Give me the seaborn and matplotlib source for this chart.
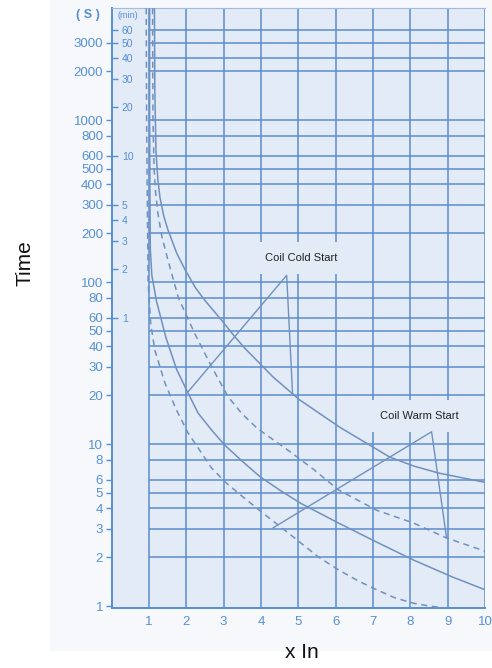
import matplotlib
matplotlib.use("Agg")
import matplotlib.pyplot as plt
import seaborn as sns
import pandas as pd
from matplotlib.patches import Rectangle

# Tripping curves (x In, seconds)
lower_dashed_x = [0.93, 0.94, 0.96, 0.98, 1.05, 1.16, 1.43, 1.74, 2.05, 2.41, 2.68, 3.09,
                  3.55, 4.05, 4.55, 5.07, 5.55, 6.08, 6.6, 7.1, 7.6, 8.09, 8.5, 8.97]
lower_dashed_y = [4900, 1000, 300, 100, 55, 38, 23.8, 16.2, 11.7, 8.8, 7.1, 5.7,
                  4.65, 3.75, 3.05, 2.45, 2.0, 1.67, 1.43, 1.26, 1.12, 1.04, 1.0, 0.97]

lower_solid_x = [1.02, 1.02, 1.03, 1.04, 1.08, 1.2, 1.45, 1.74, 2.01, 2.32, 2.68, 3.03,
                 3.48, 3.97, 4.5, 5.07, 6.08, 7.1, 8.09, 9.13, 10.0]
lower_solid_y = [4900, 1000, 300, 158, 110, 77, 46, 29, 21.5, 15.5, 12.2, 9.85,
                 7.9, 6.3, 5.2, 4.3, 3.25, 2.48, 1.92, 1.51, 1.26]

upper_dashed_x = [1.1, 1.11, 1.14, 1.18, 1.24, 1.35, 1.51, 1.79, 2.23, 2.68, 3.12, 3.48,
                  3.9, 4.77, 5.4, 6.08, 7.1, 8.09, 8.97, 10.0]
upper_dashed_y = [4900, 1000, 500, 360, 267, 190, 137, 80, 48, 30, 19.6, 15.5,
                  12.5, 9.0, 7.0, 5.2, 3.9, 3.25, 2.63, 2.18]

upper_solid_x = [1.15, 1.16, 1.19, 1.24, 1.3, 1.4, 1.51, 1.75, 1.97, 2.25, 2.5, 2.95,
                 3.3, 3.57, 4.32, 5.04, 6.11, 6.8, 7.45, 8.1, 8.78, 10.0]
upper_solid_y = [4900, 1500, 650, 430, 330, 255, 210, 150, 119, 92, 77, 58,
                 46, 39, 26, 18.7, 12.7, 10.2, 8.3, 7.3, 6.6, 5.8]

# annotation pointers
cold_x = [2.05, 4.69, 4.85]
cold_y = [21, 110, 20]
warm_x = [4.32, 8.57, 8.97]
warm_y = [3.03, 11.9, 2.63]

# axis ticks / grid
x_ticks = [1, 2, 3, 4, 5, 6, 7, 8, 9, 10]
sec_ticks = [3000, 2000, 1000, 800, 600, 500, 400, 300, 200, 100, 80, 60, 50, 40, 30, 20,
             10, 8, 6, 5, 4, 3, 2, 1]
min_ticks = [60, 50, 40, 30, 20, 10, 5, 4, 3, 2, 1]
h_grid = [3600, 3000, 2400, 2000, 1000, 800, 600, 500, 400, 300, 200, 100, 80, 60, 50, 40, 30,
          20, 10, 8, 6, 5, 4, 3, 2]

BG = "#e3ebf7"
BLUE = "#5590d3"
GRID = "#5a8dcc"
CURVE = "#6f91bf"

sns.set_theme(style="white")
plt.rcParams["font.family"] = ["Liberation Sans", "DejaVu Sans"]

fig = plt.figure(figsize=(4.92, 6.68), dpi=100)
fig.patches.append(Rectangle((50 / 492, 18 / 668), 442 / 492, 650 / 668,
                             transform=fig.transFigure, color="#f6f8fc", zorder=-5))
ax = fig.add_axes([111.5 / 492, 60 / 668, 373.5 / 492, 600 / 668])
ax.set_facecolor(BG)
ax.set_yscale("log")
ax.set_xlim(0, 10)
ax.set_ylim(0.972, 4914)

# grid
for xv in x_ticks:
    ax.axvline(xv, color=GRID, lw=1.1, zorder=1)
ax.hlines(h_grid, 1, 10, color=GRID, lw=1.1, zorder=1)

curves = [
    (lower_dashed_x, lower_dashed_y, (4, 3)),
    (lower_solid_x, lower_solid_y, ""),
    (upper_dashed_x, upper_dashed_y, (4, 3)),
    (upper_solid_x, upper_solid_y, ""),
]
for cx, cy, dash in curves:
    df = pd.DataFrame({"x": cx, "y": cy})
    sns.lineplot(data=df, x="x", y="y", ax=ax, sort=False, estimator=None,
                 color=CURVE, lw=1.1, zorder=3)
    if dash:
        ax.lines[-1].set_dashes(dash)

for px, py in [(cold_x, cold_y), (warm_x, warm_y)]:
    sns.lineplot(x=px, y=py, ax=ax, sort=False, estimator=None, color=CURVE, lw=1.0, zorder=3)

ax.text(4.1, 141, "Coil Cold Start", fontsize=8, color="#222222", va="center", zorder=2,
        bbox=dict(boxstyle="square,pad=1.0", fc=BG, ec="none"))
ax.text(7.18, 14.9, "Coil Warm Start", fontsize=8, color="#222222", va="center", zorder=2,
        bbox=dict(boxstyle="square,pad=1.0", fc=BG, ec="none"))

# seconds axis
ax.set_yticks(sec_ticks)
ax.set_yticklabels([str(v) for v in sec_ticks])
ax.yaxis.set_minor_locator(matplotlib.ticker.NullLocator())
ax.tick_params(axis="y", which="major", direction="out", length=4, width=1, color=BLUE,
               labelcolor=BLUE, labelsize=9.5, pad=2, left=True)
ax.set_xticks(x_ticks)
ax.set_xticklabels([str(v) for v in x_ticks])
ax.tick_params(axis="x", length=0, labelcolor=BLUE, labelsize=9.5, pad=6)

# minutes axis inside the frame
sec = ax.secondary_yaxis("left", functions=(lambda s: s / 60, lambda m: m * 60))
sec.set_yticks(min_ticks)
sec.set_yticklabels([str(v) for v in min_ticks])
sec.yaxis.set_minor_locator(matplotlib.ticker.NullLocator())
sec.tick_params(axis="y", direction="in", length=4, width=1, color=BLUE, labelcolor=BLUE,
                labelsize=7.5, pad=-7.5)
for lbl in sec.get_yticklabels():
    lbl.set_horizontalalignment("left")
sec.spines["left"].set_visible(False)

fig.text(88 / 492, 1 - 15 / 668, "( S )", fontsize=9, color=BLUE,
         ha="center", va="center", fontweight="bold")
fig.text(117 / 492, 1 - 16 / 668, "(min)", fontsize=6.5, color=BLUE,
         ha="left", va="center")

for side in ["left", "bottom"]:
    ax.spines[side].set_color(BLUE)
    ax.spines[side].set_linewidth(1.4)
ax.spines["top"].set_color("#9fbde3")
ax.spines["top"].set_linewidth(0.8)
ax.spines["right"].set_visible(False)

ax.set_xlabel("")
ax.set_ylabel("")
fig.text(302 / 492, 1 - 652 / 668, "x In", fontsize=15, color="#111111", ha="center", va="center")
fig.text(25 / 492, 1 - 263 / 668, "Time", fontsize=15, color="#111111", ha="center",
         va="center", rotation=90)

fig.savefig("out.png", dpi=100, facecolor="white")
